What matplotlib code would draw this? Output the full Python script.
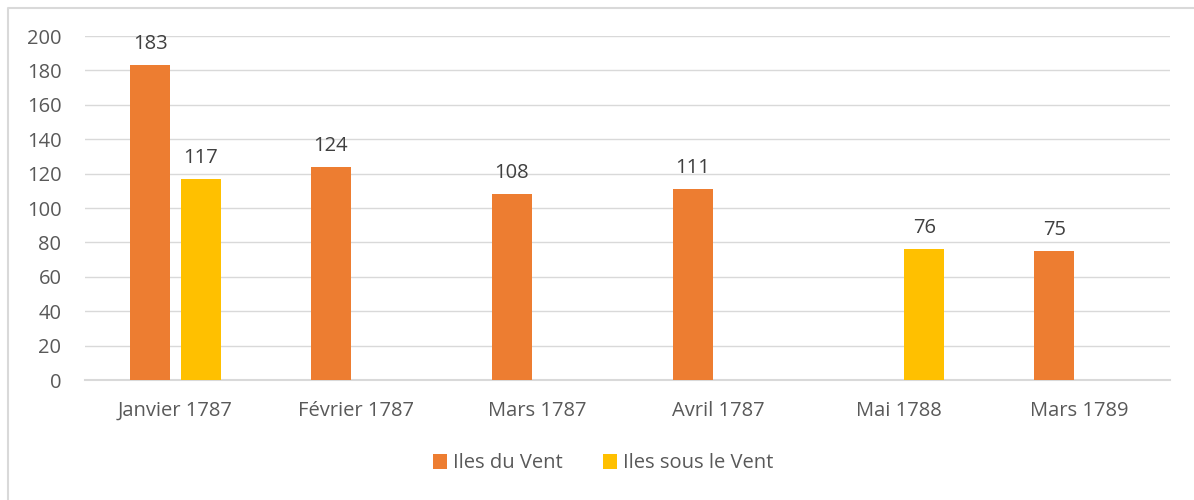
import numpy as np
import matplotlib.pyplot as plt
from matplotlib.lines import Line2D

# Donnees
categories = ['Janvier 1787', 'Février 1787', 'Mars 1787', 'Avril 1787', 'Mai 1788', 'Mars 1789']
iles_du_vent = [183, 124, 108, 111, np.nan, 75]
iles_sous_le_vent = [117, np.nan, np.nan, np.nan, 76, np.nan]
series_names = ['Iles du Vent', 'Iles sous le Vent']

plt.rcParams['font.family'] = ['Open Sans', 'DejaVu Sans']
text_color = '#595959'
grid_color = '#D9D9D9'
fs = 14.5

fig = plt.figure(figsize=(11.94, 5), dpi=100)
ax = fig.add_axes([0.0712, 0.24, 0.9088, 0.688])

# cadre du graphique (haut et gauche seulement visibles)
fx, fy = 8 / 1194, 1 - 8 / 500
fig.lines.append(Line2D([fx, fx, 1.01], [-0.01, fy, fy], transform=fig.transFigure,
                        color='#D9D9D9', linewidth=1.5))

x = np.arange(len(categories))
w = 0.22
off = 0.14
b1 = ax.bar(x - off, iles_du_vent, w, color='#ED7D31', label=series_names[0], zorder=3)
b2 = ax.bar(x + off, iles_sous_le_vent, w, color='#FFC000', label=series_names[1], zorder=3)

for bars, vals in ((b1, iles_du_vent), (b2, iles_sous_le_vent)):
    for bar, v in zip(bars, vals):
        if not np.isnan(v):
            ax.annotate(f'{int(v)}', (bar.get_x() + bar.get_width() / 2, v),
                        xytext=(0, 8), textcoords='offset points',
                        ha='center', va='bottom', fontsize=fs, color='#404040')

ax.set_xlim(-0.5, len(categories) - 0.5)
ax.set_ylim(0, 200)
ax.set_yticks(range(0, 201, 20))
ax.set_xticks(x)
ax.set_xticklabels(categories)
ax.tick_params(axis='both', length=0, labelsize=fs, labelcolor=text_color)
ax.tick_params(axis='x', pad=15)
ax.tick_params(axis='y', pad=17)
ax.grid(axis='y', color=grid_color, linewidth=1, zorder=0)
for s in ['top', 'right', 'left']:
    ax.spines[s].set_visible(False)
ax.spines['bottom'].set_color(grid_color)
ax.spines['bottom'].set_linewidth(1.5)

leg = fig.legend(loc='center', bbox_to_anchor=(0.505, 0.073), ncol=2, frameon=False,
                 fontsize=fs, handlelength=0.7, handleheight=0.7, handletextpad=0.3,
                 columnspacing=2.0)
for t in leg.get_texts():
    t.set_color(text_color)

fig.savefig('out.png', dpi=100)
